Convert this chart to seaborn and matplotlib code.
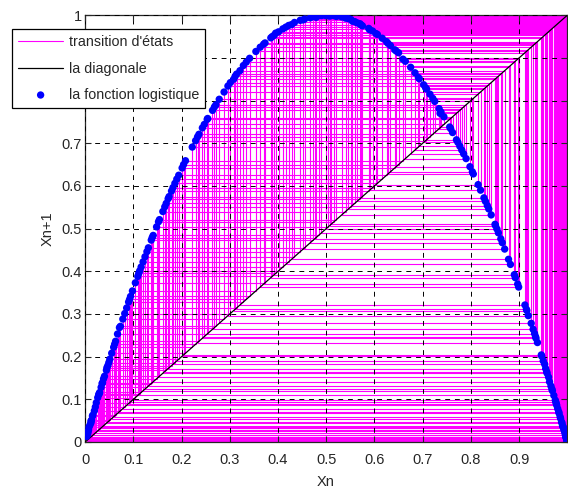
import numpy as np
import pandas as pd
import matplotlib
matplotlib.use('Agg')
import matplotlib.pyplot as plt
import seaborn as sns

# iterates x_n of the logistic map (r = 4)
xn = [0.030, 0.116, 0.410, 0.968, 0.124, 0.434, 0.983, 0.067, 0.253, 0.756,
      0.738, 0.773, 0.702, 0.837, 0.546, 0.992, 0.033, 0.128, 0.446, 0.988,
      0.047, 0.179, 0.588, 0.969, 0.120, 0.422, 0.976, 0.094, 0.341, 0.899,
      0.363, 0.925, 0.278, 0.803, 0.633, 0.929, 0.264, 0.777, 0.693, 0.851,
      0.507, 0.998, 0.010, 0.040, 0.154, 0.521, 0.997, 0.012, 0.049, 0.186,
      0.606, 0.955, 0.172, 0.570, 0.980, 0.078, 0.288, 0.820, 0.590, 0.966,
      0.131, 0.455, 0.991, 0.036, 0.139, 0.479, 0.995, 0.021, 0.082, 0.301,
      0.842, 0.532, 0.996, 0.016, 0.063, 0.236, 0.721, 0.805, 0.628, 0.934,
      0.247, 0.744, 0.762, 0.725, 0.798, 0.645, 0.916, 0.308, 0.850, 0.510,
      0.999, 0.005, 0.019, 0.073, 0.271, 0.790, 0.664, 0.892, 0.385, 0.947,
      0.201, 0.642, 0.919, 0.296, 0.834, 0.554, 0.986, 0.055, 0.208, 0.659,
      0.897, 0.370, 0.932, 0.254, 0.758, 0.734, 0.781, 0.684, 0.865, 0.467,
      0.994, 0.026, 0.104, 0.373, 0.935, 0.243, 0.736, 0.770, 0.708, 0.827,
      0.572, 0.977, 0.090, 0.328, 0.882, 0.416, 0.972, 0.109, 0.388, 0.950,
      0.190, 0.616, 0.946, 0.204, 0.650, 0.912, 0.321, 0.870, 0.452, 0.989,
      0.044, 0.168, 0.559, 0.985, 0.059, 0.222, 0.691, 0.854, 0.499, 0.999,
      0.007, 0.028, 0.111, 0.395, 0.958, 0.161, 0.540, 0.993, 0.029, 0.113,
      0.401, 0.961, 0.152, 0.516, 0.999, 0.004, 0.015, 0.061, 0.229, 0.706,
      0.830, 0.564, 0.982, 0.071, 0.268, 0.785, 0.675, 0.878, 0.428, 0.978,
      0.086, 0.314, 0.862, 0.476, 0.998, 0.008, 0.035, 0.137, 0.473, 0.997,
      0.012, 0.045, 0.174, 0.575, 0.975, 0.098, 0.354, 0.915, 0.311, 0.857,
      0.490, 0.999, 0.003, 0.013, 0.051, 0.194, 0.625, 0.938, 0.233, 0.715,
      0.815, 0.603, 0.957, 0.165, 0.551, 0.990, 0.038, 0.148, 0.504, 0.999,
      0.006, 0.023, 0.092, 0.334, 0.890, 0.392, 0.953, 0.182, 0.596, 0.963,
      0.141, 0.484, 0.999]

xticks = [0, 0.1, 0.2, 0.3, 0.4, 0.5, 0.6, 0.7, 0.8, 0.9]
yticks = [0, 0.1, 0.2, 0.3, 0.4, 0.5, 0.6, 0.7, 0.8, 0.9, 1]

sns.set_style('ticks')
plt.rcParams['font.family'] = ['Liberation Sans', 'DejaVu Sans']

# points on the curve: (x_n, x_n+1)
pts = pd.DataFrame({'x': xn[:-1], 'y': xn[1:]})

# cobweb path: (x0,x0) -> (x0,x1) -> (x1,x1) -> (x1,x2) ...
cx, cy = [], []
for a, b in zip(xn[:-1], xn[1:]):
    cx += [a, a]
    cy += [a, b]
cx.append(xn[-1])
cy.append(xn[-1])
web = pd.DataFrame({'cx': cx, 'cy': cy, 'step': np.arange(len(cx))})

fig = plt.figure(figsize=(5.68, 4.9), dpi=100)
ax = fig.add_axes([0.150, 0.098, 0.848, 0.871])

sns.lineplot(data=web, x='cx', y='cy', sort=False, estimator=None,
             color='#ff00ff', lw=0.8, ax=ax, label="transition d'états")
lim = [0, max(xn)]
ax.plot(lim, lim, color='black', lw=0.9, label='la diagonale', zorder=3)
sns.scatterplot(data=pts, x='x', y='y', color='#0000ff', s=28,
                edgecolor='none', ax=ax, zorder=4,
                label='la fonction logistique')

ax.set_xlim(0, max(xn))
ax.set_ylim(0, 1)
ax.set_xticks(xticks)
ax.set_xticklabels([f'{t:g}' for t in xticks])
ax.set_yticks(yticks)
ax.set_yticklabels([f'{t:g}' for t in yticks])
ax.tick_params(direction='in', length=4, top=True, right=True,
               labelsize=10.5, width=0.8)
ax.tick_params(axis='x', pad=8)
ax.tick_params(axis='y', pad=2.5)
ax.grid(True, color='black', ls=(0, (5, 5)), lw=0.7)
ax.set_axisbelow(False)
for s in ax.spines.values():
    s.set_linewidth(0.9)
ax.set_xlabel('Xn', fontsize=10.5, labelpad=6)
ax.set_ylabel('Xn+1', fontsize=10.5, labelpad=5)

handles, labels = ax.get_legend_handles_labels()
ax.get_legend().remove()
leg = fig.legend(handles, labels, loc='upper left',
                 bbox_to_anchor=(12 / 568, 1 - 29 / 490), fontsize=10.3,
                 frameon=True, fancybox=False, framealpha=1,
                 edgecolor='black', borderaxespad=0, handlelength=3.1,
                 handletextpad=0.4, labelspacing=0.85, borderpad=0.45)
leg.get_frame().set_linewidth(0.9)

fig.savefig('out.png', dpi=100)
